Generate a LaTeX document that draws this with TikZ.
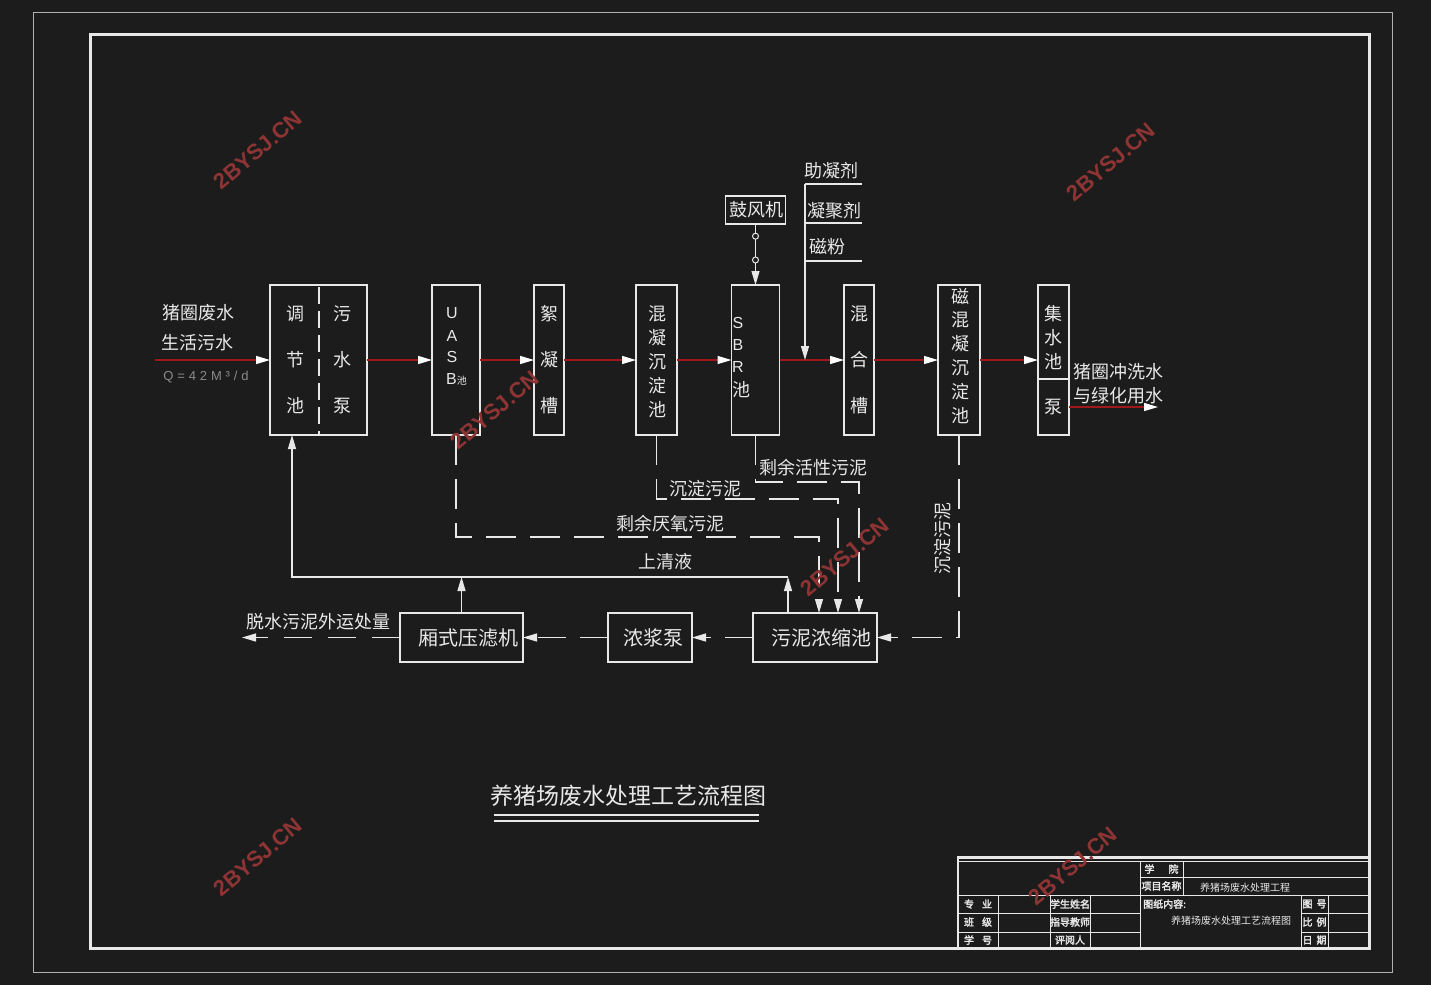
\documentclass[tikz,border=0pt]{standalone}
\usepackage{fontspec}
\setmainfont{Noto Sans CJK SC}
\newfontfamily\cjkb{Noto Sans CJK SC}[FakeBold=2.5]
\newfontfamily\latinf{Liberation Sans}
\newfontfamily\qfont{Liberation Sans}[LetterSpace=30]
\newfontfamily\wmfont{Liberation Sans}
\usetikzlibrary{arrows.meta,calc}
\definecolor{bg}{HTML}{1C1C1C}
\definecolor{rl}{HTML}{A01818}
\definecolor{fg}{HTML}{E8E8E8}
\definecolor{wm}{HTML}{8E3434}
\definecolor{qgray}{HTML}{8A8A8A}
\definecolor{frgray}{HTML}{B0B0B0}
\begin{document}
\begin{tikzpicture}[x=1pt,y=-1pt,
  box/.style={draw=fg,line width=1.3pt,inner sep=0pt,outer sep=0pt},
  lbl/.style={text=fg,font=\fontsize{18}{18}\selectfont,inner sep=0pt},
  blbl/.style={text=fg,font=\fontsize{20}{20}\selectfont,inner sep=0pt},
  let/.style={text=fg,font=\latinf\fontsize{16}{16}\selectfont,inner sep=0pt},
  tb/.style={text=fg,font=\cjkb\fontsize{10}{10}\selectfont,inner sep=0pt},
  redln/.style={draw=rl,line width=1.3pt,-{Triangle[length=14pt,width=8pt,color=white]}},
  wln/.style={draw=fg,line width=1.2pt,-{Triangle[length=14pt,width=8pt,color=fg]}},
  dln/.style={wln,dash pattern=on 30pt off 14pt},
  plain/.style={draw=fg,line width=1.2pt},
  circ/.style={circle,draw=fg,fill=bg,minimum size=6pt,inner sep=0pt,line width=1pt},
  wmark/.style={text=wm,font=\wmfont\bfseries\fontsize{22}{22}\selectfont,rotate=40,inner sep=0pt}]
\fill[bg] (0,0) rectangle (1431,985);
\useasboundingbox (0,0) rectangle (1431,985);
% frames
\draw[frgray,line width=1pt] (33,12) rectangle (1392,972);
\draw[fg,line width=3pt] (90,34) rectangle (1369,948);

% main boxes
\node[box,minimum width=97pt,minimum height=150pt] (tj) at (318.5,360) {};
\draw[fg,line width=1.2pt,dash pattern=on 17pt off 7pt] (319,287) -- (319,434);
\node[box,minimum width=48pt,minimum height=150pt] (uasb) at (456,360) {};
\node[box,minimum width=30pt,minimum height=150pt] (xn) at (549,360) {};
\node[box,minimum width=41pt,minimum height=150pt] (hn) at (656.5,360) {};
\node[box,minimum width=48pt,minimum height=150pt] (sbr) at (755.5,360) {};
\node[box,minimum width=30pt,minimum height=150pt] (hh) at (859,360) {};
\node[box,minimum width=42pt,minimum height=150pt] (cx) at (959,360) {};
\node[box,minimum width=31pt,minimum height=150pt] (js) at (1053.5,360) {};
\draw[plain] (js.west |- 0,379) -- (js.east |- 0,379);
\node[box,minimum width=60pt,minimum height=28pt] (gf) at (755.5,210) {};
\node[box,minimum width=123pt,minimum height=49pt] (ylj) at (461.5,637.5) {};
\node[box,minimum width=84pt,minimum height=49pt] (njb) at (650,637.5) {};
\node[box,minimum width=124pt,minimum height=49pt] (wn) at (815,637.5) {};

% box labels
\node[lbl] at (295,314) {调};
\node[lbl] at (295,360) {节};
\node[lbl] at (295,406) {池};
\node[lbl] at (342,314) {污};
\node[lbl] at (342,360) {水};
\node[lbl] at (342,406) {泵};
\node[let] at (452,313) {U};
\node[let] at (452,336) {A};
\node[let] at (452,357) {S};
\node[let,anchor=west] at (446,379) {B{\rmfamily\fontsize{10}{10}\selectfont 池}};
\node[lbl] at (549,314) {絮};
\node[lbl] at (549,360) {凝};
\node[lbl] at (549,406) {槽};
\node[lbl] at (657,314) {混};
\node[lbl] at (657,338) {凝};
\node[lbl] at (657,362) {沉};
\node[lbl] at (657,386) {淀};
\node[lbl] at (657,410) {池};
\node[let] at (738,323) {S};
\node[let] at (738,345) {B};
\node[let] at (738,367) {R};
\node[lbl] at (741,390) {池};
\node[lbl] at (859,314) {混};
\node[lbl] at (859,360) {合};
\node[lbl] at (859,406) {槽};
\node[lbl] at (960,296) {磁};
\node[lbl] at (960,320) {混};
\node[lbl] at (960,344) {凝};
\node[lbl] at (960,368) {沉};
\node[lbl] at (960,392) {淀};
\node[lbl] at (960,416) {池};
\node[lbl] at (1053,314) {集};
\node[lbl] at (1053,338) {水};
\node[lbl] at (1053,362) {池};
\node[lbl] at (1053,407) {泵};
\node[lbl] at (756,210) {鼓风机};
\node[blbl] at (468,638) {厢式压滤机};
\node[blbl] at (653,638) {浓浆泵};
\node[blbl] at (821,638) {污泥浓缩池};

% inflow
\coordinate (inp) at (155,360);
\node[lbl] at (198,313) {猪圈废水};
\node[lbl] at (197,343) {生活污水};
\node[text=qgray,font=\qfont\fontsize{13}{13}\selectfont,inner sep=0pt] at (206,377) {Q=42M³/d};
\draw[redln] (inp) -- (tj.west);
\draw[redln] (tj.east) -- (uasb.west);
\draw[redln] (uasb.east) -- (xn.west);
\draw[redln] (xn.east) -- (hn.west);
\draw[redln] (hn.east) -- (sbr.west);
\draw[redln] (sbr.east) -- (hh.west);
\draw[redln] (hh.east) -- (cx.west);
\draw[redln] (cx.east) -- (js.west);
\coordinate (pumpE) at (1069,407);
\coordinate (outp) at (1158,407);
\draw[redln] (pumpE) -- (outp);
\node[lbl] at (1118,372) {猪圈冲洗水};
\node[lbl] at (1118,396) {与绿化用水};

% blower
\draw[wln] (gf.south) -- (sbr.north) node[circ,pos=0.2]{} node[circ,pos=0.59]{};

% chemicals
\coordinate (chtop) at (805,184);
\coordinate (chbot) at (805,360);
\draw[wln] (chtop) -- (chbot);
\draw[plain] (chtop) -- ++(57,0);
\draw[plain] (805,223) -- (862,223);
\draw[plain] (805,261) -- (862,261);
\node[lbl] at (831,171) {助凝剂};
\node[lbl] at (834,211) {凝聚剂};
\node[lbl] at (827,247) {磁粉};

% sludge lines
\draw[dln] (uasb.south) |- ([xshift=4pt,yshift=76pt]wn.north) -- ([xshift=4pt]wn.north);
\draw[dln] (hn.south) |- ([xshift=23pt,yshift=114pt]wn.north) -- ([xshift=23pt]wn.north);
\draw[dln] (sbr.south) |- ([xshift=44pt,yshift=131pt]wn.north) -- ([xshift=44pt]wn.north);
\draw[dln] (cx.south) |- (wn.east);
\node[lbl] at (705,489) {沉淀污泥};
\node[lbl] at (813,468) {剩余活性污泥};
\node[lbl] at (670,524) {剩余厌氧污泥};
\node[lbl,rotate=90] at (943,538) {沉淀污泥};

% supernatant
\draw[wln] ([xshift=-27pt]wn.north) -- ([xshift=-27pt,yshift=36pt]wn.north);
\draw[wln] (ylj.north) -- ([yshift=36pt]ylj.north);
\draw[wln] ([xshift=-27pt,yshift=36pt]wn.north) -| ([xshift=-26.5pt]tj.south);
\node[lbl] at (665,562) {上清液};

% sludge dewatering
\coordinate (dout) at (242,637.5);
\draw[dln,dash pattern=on 28pt off 14pt] (wn.west) -- (njb.east);
\draw[dln,dash pattern=on 28pt off 14pt] (njb.west) -- (ylj.east);
\draw[dln,dash pattern=on 28pt off 16pt] (ylj.west) -- (dout);
\node[lbl] at (318,622) {脱水污泥外运处量};

% title
\node[text=fg,font=\fontsize{23}{23}\selectfont,inner sep=0pt] (title) at (628,796) {养猪场废水处理工艺流程图};
\draw[plain] (494,815) -- (759,815);
\draw[plain] (494,821) -- (759,821);

% title block
\draw[fg,line width=3pt] (957,857) -- (1369,857);
\draw[fg,line width=2.5pt] (958,857) -- (958,948);
\draw[fg,line width=1pt] (958,861) -- (1369,861);
\draw[fg,line width=1pt] (1140,877) -- (1369,877);
\draw[fg,line width=1pt] (958,895) -- (1369,895);
\draw[fg,line width=1pt] (958,913) -- (1140,913);
\draw[fg,line width=1pt] (958,932) -- (1140,932);
\draw[fg,line width=1pt] (1301,913) -- (1369,913);
\draw[fg,line width=1pt] (1301,932) -- (1369,932);
\draw[fg,line width=1pt] (1140,861) -- (1140,948);
\draw[fg,line width=1pt] (1183,861) -- (1183,895);
\foreach \xx in {998,1050,1090,1301,1328} \draw[fg,line width=1pt] (\xx,895) -- (\xx,948);
\node[tb] at (1161.5,869) {学\hspace{14pt}院};
\node[tb] at (1161.5,886) {项目名称};
\node[text=fg,font=\fontsize{10}{10}\selectfont,inner sep=0pt] at (1245,888) {养猪场废水处理工程};
\node[tb] at (978,904) {专\hspace{8pt}业};
\node[tb] at (1070,904) {学生姓名};
\node[tb,anchor=west] at (1143,904) {图纸内容:};
\node[tb] at (1314.5,904) {图\hspace{4pt}号};
\node[tb] at (978,922) {班\hspace{8pt}级};
\node[tb] at (1070,922) {指导教师};
\node[text=fg,font=\fontsize{10}{10}\selectfont,inner sep=0pt] at (1231,921) {养猪场废水处理工艺流程图};
\node[tb] at (1314.5,922) {比\hspace{4pt}例};
\node[tb] at (978,940) {学\hspace{8pt}号};
\node[tb] at (1070,940) {评阅人};
\node[tb] at (1314.5,940) {日\hspace{4pt}期};

% watermarks
\node[wmark] at (258,150) {2BYSJ.CN};
\node[wmark] at (1111,162) {2BYSJ.CN};
\node[wmark] at (495,410) {2BYSJ.CN};
\node[wmark] at (845,557) {2BYSJ.CN};
\node[wmark] at (258,857) {2BYSJ.CN};
\node[wmark] at (1073,866) {2BYSJ.CN};
\end{tikzpicture}
\end{document}
